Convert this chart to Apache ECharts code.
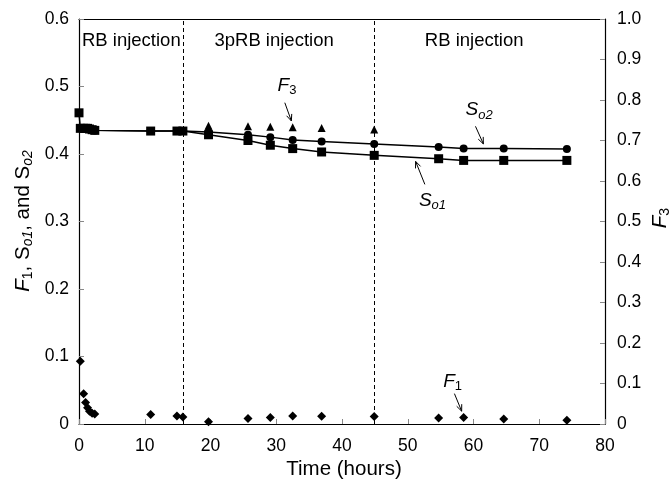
<!DOCTYPE html>
<html><head><meta charset="utf-8">
<script src="https://cdn.jsdelivr.net/npm/echarts@6/dist/echarts.min.js"></script>
<style>html,body{margin:0;padding:0;background:#fff}#c{width:672px;height:485px}</style>
</head><body><div id="c"></div>
<script>
// ---- data ----
const xTicks = [0, 10, 20, 30, 40, 50, 60, 70, 80];
const leftTicks = [0, 0.1, 0.2, 0.3, 0.4, 0.5, 0.6];
const rightTicks = [0, 0.1, 0.2, 0.3, 0.4, 0.5, 0.6, 0.7, 0.8, 0.9, 1.0];

const so1Time = [0, 0.2, 0.7, 1.0, 1.3, 1.6, 2.0, 2.4, 10.9, 14.9, 15.8, 19.7, 25.7, 29.1, 32.5, 36.9, 44.9, 54.7, 58.5, 64.6, 74.2];
const so1 =     [0.461, 0.438, 0.438, 0.438, 0.438, 0.437, 0.436, 0.435, 0.434, 0.434, 0.434, 0.4285, 0.420, 0.413, 0.408, 0.403, 0.398, 0.393, 0.3905, 0.3905, 0.3905];

const so2Time = [0.2, 0.7, 1.0, 1.3, 1.6, 2.0, 2.4, 10.9, 14.9, 15.8, 19.7, 25.7, 29.1, 32.5, 36.9, 44.9, 54.7, 58.5, 64.6, 74.2];
const so2 =     [0.438, 0.438, 0.438, 0.438, 0.437, 0.436, 0.435, 0.434, 0.434, 0.434, 0.4325, 0.4286, 0.425, 0.4207, 0.4187, 0.4148, 0.4104, 0.408, 0.408, 0.4074];

const f3Time = [19.7, 25.7, 29.1, 32.5, 36.9, 44.9];
const f3 =     [0.7365, 0.735, 0.734, 0.733, 0.731, 0.727];

const f1Time = [0.2, 0.7, 1.0, 1.3, 1.6, 2.0, 2.4, 10.9, 14.9, 15.8, 19.7, 25.7, 29.1, 32.5, 36.9, 44.9, 54.7, 58.5, 64.6, 74.2];
const f1 =     [0.093, 0.045, 0.032, 0.024, 0.019, 0.016, 0.015, 0.014, 0.012, 0.0104, 0.0034, 0.0083, 0.0098, 0.0118, 0.0113, 0.011, 0.0089, 0.0098, 0.0074, 0.0054];

const injectionTimes = [15.9, 44.9];
const phaseLabels = ['RB injection', '3pRB injection', 'RB injection'];
const phaseLabelX = [0.45, 20.6, 52.6];

// ---- chart ----
const FONT = '"Liberation Sans", Arial, Helvetica, sans-serif';
const zip = (a, b) => a.map((v, i) => [v, b[i]]);
const fmt = v => (v === 0 ? '0' : v.toFixed(1));

const chart = echarts.init(document.getElementById('c'), null, { renderer: 'canvas' });

const axisCommon = {
  type: 'value',
  axisLine: { show: true, onZero: false, lineStyle: { color: '#000', width: 1.2 } },
  axisTick: { show: true, inside: true, length: 5, lineStyle: { color: '#888', width: 1 } },
  splitLine: { show: false },
  axisLabel: { color: '#000', fontSize: 17.5, fontFamily: FONT, formatter: fmt }
};

chart.setOption({
  animation: false,
  backgroundColor: '#fff',
  grid: { left: 79, right: 67, top: 19, bottom: 61, containLabel: false },
  xAxis: [
    Object.assign({}, axisCommon, { position: 'bottom', min: xTicks[0], max: xTicks[xTicks.length - 1], interval: xTicks[1] - xTicks[0],
      axisLabel: Object.assign({}, axisCommon.axisLabel, { margin: 13, formatter: v => String(v) }) }),
    Object.assign({}, axisCommon, { position: 'top', min: 0, max: 80, interval: 10, axisTick: { show: false }, axisLabel: { show: false } })
  ],
  yAxis: [
    Object.assign({}, axisCommon, { position: 'left', min: leftTicks[0], max: leftTicks[leftTicks.length - 1], interval: 0.1,
      axisLabel: Object.assign({}, axisCommon.axisLabel, { margin: 10 }) }),
    Object.assign({}, axisCommon, { position: 'right', min: rightTicks[0], max: rightTicks[rightTicks.length - 1], interval: 0.1,
      axisLabel: Object.assign({}, axisCommon.axisLabel, { margin: 12 }) })
  ],
  series: [
    { name: 'So1', type: 'line', data: zip(so1Time, so1), symbol: 'rect', symbolSize: 9,
      lineStyle: { color: '#000', width: 1.5 }, itemStyle: { color: '#000', opacity: 1 }, z: 5,
      markLine: { silent: true, symbol: 'none', label: { show: false },
        lineStyle: { color: '#000', width: 1, type: [4, 3] },
        data: injectionTimes.map(t => ({ xAxis: t })) } },
    { name: 'So2', type: 'line', data: zip(so2Time, so2), symbol: 'circle', symbolSize: 8,
      lineStyle: { color: '#000', width: 1.5 }, itemStyle: { color: '#000', opacity: 1 }, z: 4 },
    { name: 'F3', type: 'scatter', yAxisIndex: 1, data: zip(f3Time, f3), symbol: 'triangle', symbolSize: 8,
      itemStyle: { color: '#000', opacity: 1 } },
    { name: 'F1', type: 'scatter', data: zip(f1Time, f1), symbol: 'diamond', symbolSize: 9,
      itemStyle: { color: '#000', opacity: 1 } }
  ]
});

// ---- annotations (positioned through the chart's own scales) ----
const px = (x, y) => chart.convertToPixel({ xAxisIndex: 0, yAxisIndex: 0 }, [x, y]);
const rich = {
  f: { fontStyle: 'italic', fontSize: 19, fontFamily: FONT, color: '#000' },
  n: { fontSize: 19, fontFamily: FONT, color: '#000' },
  s: { fontStyle: 'italic', fontSize: 13, fontFamily: FONT, color: '#000', padding: [10, 0, 0, 0] },
  d: { fontSize: 13, fontFamily: FONT, color: '#000', padding: [10, 0, 0, 0] },
  F: { fontStyle: 'italic', fontSize: 20.5, fontFamily: FONT, color: '#000' },
  N: { fontSize: 20.5, fontFamily: FONT, color: '#000' },
  S: { fontStyle: 'italic', fontSize: 14, fontFamily: FONT, color: '#000', padding: [11, 0, 0, 0] },
  D: { fontSize: 14, fontFamily: FONT, color: '#000', padding: [11, 0, 0, 0] }
};
function arrow(p1, p2) {
  const ang = Math.atan2(p2[1] - p1[1], p2[0] - p1[0]);
  const L = 7, a = 0.4;
  const h1 = [p2[0] - L * Math.cos(ang - a), p2[1] - L * Math.sin(ang - a)];
  const h2 = [p2[0] - L * Math.cos(ang + a), p2[1] - L * Math.sin(ang + a)];
  return [
    { type: 'line', shape: { x1: p1[0], y1: p1[1], x2: p2[0], y2: p2[1] }, style: { stroke: '#000', lineWidth: 1 }, z: 10 },
    { type: 'polyline', shape: { points: [h1, p2, h2] }, style: { stroke: '#000', lineWidth: 1, fill: null }, z: 10 }
  ];
}
const g = [];
phaseLabels.forEach((t, i) => {
  const p = px(phaseLabelX[i], 0.567);
  g.push({ type: 'text', x: p[0], y: p[1], style: { text: t, fontSize: 18.5, fontFamily: FONT, fill: '#000', textAlign: 'left', textVerticalAlign: 'middle' }, z: 10 });
});
function lbl(x, y, text) {
  const p = px(x, y);
  g.push({ type: 'text', x: p[0], y: p[1], style: { text: text, rich: rich, textAlign: 'left', textVerticalAlign: 'middle' }, z: 10 });
}
lbl(30.2, 0.501, '{f|F}{d|3}');
g.push(...arrow(px(31.3, 0.476), px(32.3, 0.449)));
lbl(58.8, 0.465, '{f|S}{s|o2}');
g.push(...arrow(px(60.3, 0.441), px(61.5, 0.415)));
lbl(51.7, 0.331, '{f|S}{s|o1}');
g.push(...arrow(px(52.6, 0.355), px(51.2, 0.389)));
lbl(55.4, 0.063, '{f|F}{d|1}');
g.push(...arrow(px(57.1, 0.045), px(58.2, 0.019)));

// axis titles
const bl = px(0, 0);
const tr = px(80, 0.6);
g.push({ type: 'text', x: (bl[0] + tr[0]) / 2 + 2, y: 469, style: { text: 'Time (hours)', fontSize: 20.5, fontFamily: FONT, fill: '#000', textAlign: 'center', textVerticalAlign: 'middle' }, z: 10 });
g.push({ type: 'text', x: 23, y: 221, rotation: Math.PI / 2,
  style: { text: '{F|F}{D|1}{N|, S}{S|o1}{N|, and S}{S|o2}', rich: rich, textAlign: 'center', textVerticalAlign: 'middle' }, z: 10 });
g.push({ type: 'text', x: 660, y: 218, rotation: Math.PI / 2,
  style: { text: '{F|F}{D|3}', rich: rich, textAlign: 'center', textVerticalAlign: 'middle' }, z: 10 });
chart.setOption({ graphic: { elements: g } });
</script>
</body></html>
